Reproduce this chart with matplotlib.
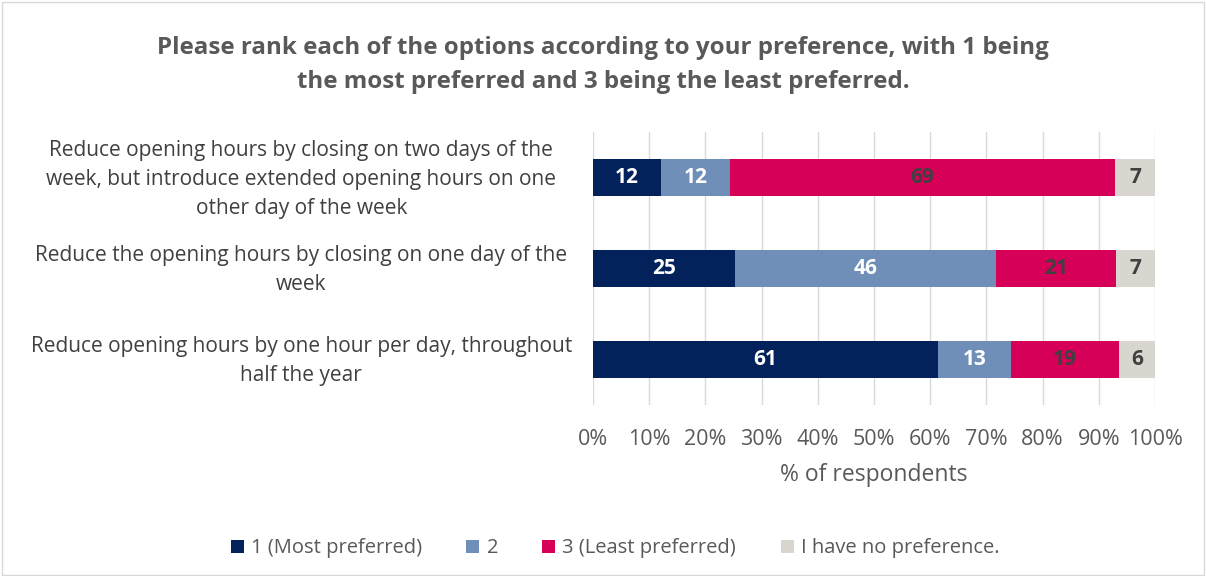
import matplotlib.pyplot as plt
from matplotlib.patches import Rectangle
from matplotlib.transforms import ScaledTranslation

plt.rcParams['font.family'] = ['Open Sans', 'DejaVu Sans']

options = ['Reduce opening hours by closing on two days of the\nweek, but introduce extended opening hours on one\nother day of the week',
           'Reduce the opening hours by closing on one day of the\nweek',
           'Reduce opening hours by one hour per day, throughout\nhalf the year']
series_names = ['1 (Most preferred)', '2', '3 (Least preferred)', 'I have no preference.']
most = [12.1, 25.2, 61.4]
second = [12.3, 46.5, 12.9]
least = [68.5, 21.3, 19.3]
no_pref = [7.1, 7.0, 6.4]
labels = [[12, 25, 61], [12, 46, 13], [69, 21, 19], [7, 7, 6]]

colors = ['#03215B', '#6F8FB8', '#D60058', '#D9D5CF']
text_colors = ['white', 'white', '#404040', '#404040']

fig = plt.figure(figsize=(12.06, 5.76), dpi=100)
ax = fig.add_axes([0.4917, 0.2969, 0.4660, 0.4739])
fig.patches.append(Rectangle((0.002, 0.002), 0.996, 0.995, transform=fig.transFigure,
                             fill=False, edgecolor='#D9D9D9', linewidth=1))

ypos = [0, 1, 2]
left = [0, 0, 0]
for i, vals in enumerate([most, second, least, no_pref]):
    bars = ax.barh(ypos, vals, left=left, height=0.4, color=colors[i], label=series_names[i], zorder=3)
    for b, lab in zip(bars, labels[i]):
        ax.text(b.get_x() + b.get_width() / 2, b.get_y() + b.get_height() / 2, str(lab),
                ha='center', va='center', color=text_colors[i], fontsize=15, fontweight='bold', zorder=4)
    left = [l + v for l, v in zip(left, vals)]

ax.set_xlim(0, 100)
ax.set_ylim(2.5, -0.5)
ax.set_xticks(range(0, 101, 10))
ax.set_xticklabels([f'{t}%' for t in range(0, 101, 10)])
ax.set_yticks(ypos)
ax.set_yticklabels(options, ha='center', multialignment='center', linespacing=1.5)
ax.tick_params(axis='y', length=0, pad=210, labelsize=15, labelcolor='#404040')
ax.tick_params(axis='x', length=0, pad=17, labelsize=15.5, labelcolor='#595959')
# nudge the category labels up a little so they sit centred on the bars
shift = ScaledTranslation(0, 0.05, fig.dpi_scale_trans)
for t in ax.get_yticklabels():
    t.set_transform(t.get_transform() + shift)
ax.grid(axis='x', color='#D9D9D9', linewidth=1, zorder=0)
for s in ax.spines.values():
    s.set_visible(False)
ax.set_xlabel('% of respondents', fontsize=16.5, color='#595959', labelpad=10)

fig.suptitle('Please rank each of the options according to your preference, with 1 being\nthe most preferred and 3 being the least preferred.',
             x=0.5, y=0.937, fontsize=17.4, fontweight='bold', color='#595959', linespacing=1.55)

fig.legend(loc='center', bbox_to_anchor=(0.51, 0.048), ncol=4, frameon=False, fontsize=14.5,
           handlelength=0.65, handleheight=0.65, handletextpad=0.35, columnspacing=2.2, labelcolor='#595959')

fig.savefig('out.png', dpi=100)
